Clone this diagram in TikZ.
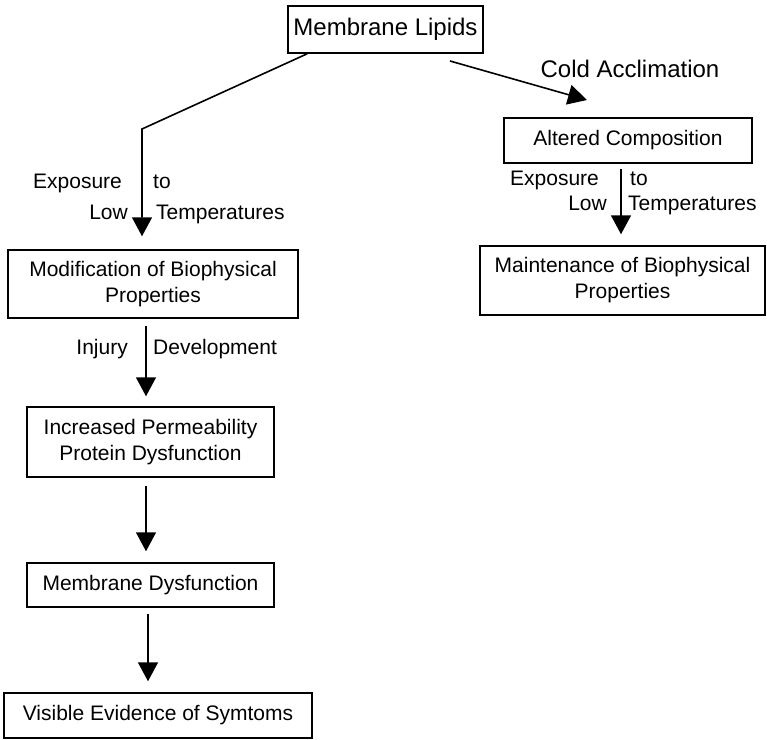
\documentclass[tikz,border=0pt]{standalone}
\usepackage{fontspec}
\setmainfont{Liberation Sans}
\usetikzlibrary{arrows.meta}
\begin{document}
\begin{tikzpicture}[x=1pt,y=-1pt,
  box/.style={draw,line width=1.5pt,inner sep=0pt,align=center,
    font=\fontsize{21}{26}\selectfont},
  lbl/.style={inner sep=0pt,font=\fontsize{21}{26}\selectfont},
  arr/.style={line width=1.6pt,-{Triangle[width=20pt,length=19pt]}}]
\useasboundingbox (0,0) rectangle (767,739);

% boxes
\node[box,minimum width=195pt,minimum height=47pt,font=\fontsize{24}{28}\selectfont] (ml) at (385.5,29.5) {Membrane Lipids};
\node[box,minimum width=290pt,minimum height=68pt] (mod) at (153,284) {Modification of Biophysical\\Properties};
\node[box,minimum width=248pt,minimum height=45pt] (alt) at (628,140.5) {Altered Composition};
\node[box,minimum width=285pt,minimum height=69pt] (mnt) at (622.5,280.5) {Maintenance of Biophysical\\Properties};
\node[box,minimum width=247pt,minimum height=70pt] (inc) at (150.5,442) {Increased Permeability\\Protein Dysfunction};
\node[box,minimum width=247pt,minimum height=44pt] (mdy) at (150.5,585) {Membrane Dysfunction};
\node[box,minimum width=308pt,minimum height=45pt] (vis) at (158,715.5) {Visible Evidence of Symtoms};

% left branch: exposure to low temperatures
\coordinate (l0) at ([xshift=20pt]ml.south west);
\coordinate (l1) at (142,129);
\draw[arr,shorten >=13pt] (l0) -- (l1) -- (l1 |- mod.north);
\node[lbl,anchor=base west] (e1) at (33,188) {Exposure};
\node[lbl,anchor=base west] (t1) at (153,188) {to};
\node[lbl,anchor=base east] (w1) at (128,219) {Low};
\node[lbl,anchor=base west] (p1) at (156,219) {Temperatures};

% right branch: cold acclimation
\coordinate (r0) at (450,61);
\coordinate (r1) at (587,100);
\draw[arr] (r0) -- (r1);
\node[lbl,anchor=base,font=\fontsize{24}{28}\selectfont] (ca) at (630,77) {Cold Acclimation};

\coordinate (a0) at (621,163);
\draw[arr,shorten <=5pt,shorten >=11pt] (a0 |- alt.south) -- (a0 |- mnt.north);
\node[lbl,anchor=base west] (e2) at (510,185) {Exposure};
\node[lbl,anchor=base west] (t2) at (630,185) {to};
\node[lbl,anchor=base east] (w2) at (607,210) {Low};
\node[lbl,anchor=base west] (p2) at (628,210) {Temperatures};

% injury chain
\coordinate (c1) at (146,0);
\coordinate (c2) at (148,0);
\draw[arr,shorten <=7pt,shorten >=10pt] (c1 |- mod.south) -- (c1 |- inc.north);
\node[lbl,anchor=base east] (inj) at (128,354) {Injury};
\node[lbl,anchor=base west] (dev) at (153,354) {Development};
\draw[arr,shorten <=8pt,shorten >=11pt] (c1 |- inc.south) -- (c1 |- mdy.north);
\draw[arr,shorten <=6pt,shorten >=11pt] (c2 |- mdy.south) -- (c2 |- vis.north);
\end{tikzpicture}
\end{document}
